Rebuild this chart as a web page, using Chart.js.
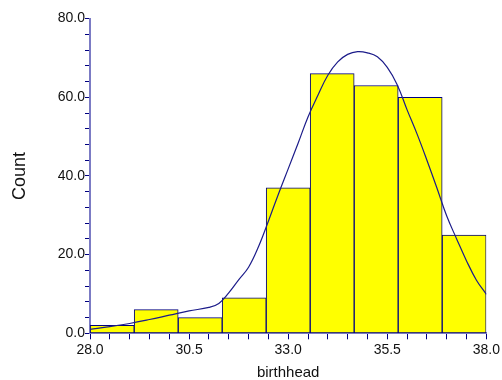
<!DOCTYPE html>
<html>
<head>
<meta charset="utf-8">
<script src="https://cdn.jsdelivr.net/npm/chart.js@4/dist/chart.umd.min.js"></script>
<style>
  html, body { margin: 0; padding: 0; background: #ffffff; }
  #wrap { width: 502px; height: 380px; }
</style>
</head>
<body>
<div id="wrap"><canvas id="c" width="502" height="380"></canvas></div>
<script>
// Histogram bins (centres of the 9 bins between 28.0 and 38.0) and counts
const binCenters = [28.56, 29.67, 30.78, 31.89, 33.0, 34.11, 35.22, 36.33, 37.44];
const counts = [2, 6, 4, 9, 37, 66, 63, 60, 25];

// Density curve (scaled to counts)
const curveX = [28.0, 28.5, 29.0, 29.5, 30.0, 30.5, 31.0, 31.25, 31.5, 31.75, 32.0, 32.25, 32.5, 32.75,
                33.0, 33.25, 33.5, 33.75, 34.0, 34.25, 34.5, 34.75, 35.0, 35.25, 35.5, 35.75, 36.0,
                36.25, 36.5, 36.75, 37.0, 37.25, 37.5, 37.75, 38.0];
const curveY = [1.0, 1.7, 2.5, 3.5, 4.6, 5.7, 6.6, 7.6, 10.3, 13.6, 16.8, 22.0, 28.5, 35.3,
                41.8, 48.3, 55.0, 60.5, 65.6, 69.0, 70.9, 71.6, 71.3, 70.3, 67.6, 63.2, 56.8,
                50.7, 44.0, 37.0, 29.8, 24.0, 18.4, 13.5, 9.9];

// Tick labels
const xMajorTicks = [28.0, 30.5, 33.0, 35.5, 38.0];
const xTickLabels = ['28.0', '30.5', '33.0', '35.5', '38.0'];
const yMajorTicks = [0, 20, 40, 60, 80];
const yTickLabels = ['0.0', '20.0', '40.0', '60.0', '80.0'];

const xTitle = 'birthhead';
const yTitle = 'Count';

function labelFor(value, majors, labels) {
  for (let i = 0; i < majors.length; i++) {
    if (Math.abs(value - majors[i]) < 1e-6) return labels[i];
  }
  return '';
}

const barData = binCenters.map((x, i) => ({ x: x, y: counts[i] }));
const curveData = curveX.map((x, i) => ({ x: x, y: curveY[i] }));

const FONT = "'Liberation Sans', Arial, sans-serif";

new Chart(document.getElementById('c'), {
  type: 'bar',
  data: {
    datasets: [
      {
        type: 'line',
        data: curveData,
        borderColor: '#1c1c8a',
        borderWidth: 1.2,
        pointRadius: 0,
        fill: false,
        tension: 0.4,
        order: 0
      },
      {
        type: 'bar',
        data: barData,
        backgroundColor: '#ffff00',
        borderColor: '#000080',
        borderWidth: 1,
        borderSkipped: false,
        barThickness: 'flex',
        barPercentage: 1.0,
        categoryPercentage: 1.0,
        order: 1
      }
    ]
  },
  options: {
    responsive: false,
    animation: false,
    devicePixelRatio: 1,
    layout: { padding: { top: 18.6, right: 14, bottom: 0, left: 0 } },
    plugins: { legend: { display: false }, tooltip: { enabled: false } },
    scales: {
      x: {
        type: 'linear',
        min: 28,
        max: 38,
        offset: false,
        afterFit: (s) => { s.height = 46.7; },
        border: { display: true, color: '#7b7bc4', width: 2 },
        grid: {
          offset: false,
          drawOnChartArea: false,
          drawTicks: true,
          tickLength: 6,
          tickColor: '#000080',
          tickWidth: 1
        },
        ticks: {
          stepSize: 0.5,
          autoSkip: false,
          maxRotation: 0,
          minRotation: 0,
          padding: 2,
          color: '#111111',
          font: { family: FONT, size: 14 },
          callback: (v) => labelFor(v, xMajorTicks, xTickLabels)
        },
        title: {
          display: true,
          text: xTitle,
          color: '#111111',
          font: { family: FONT, size: 15, lineHeight: 1 },
          padding: { top: 0, bottom: 0 }
        }
      },
      y: {
        type: 'linear',
        min: 0,
        max: 80,
        afterFit: (s) => { s.width = 90; },
        border: { display: true, color: '#7b7bc4', width: 2 },
        grid: {
          drawOnChartArea: false,
          drawTicks: true,
          tickLength: 5,
          tickColor: '#000080',
          tickWidth: 1
        },
        ticks: {
          stepSize: 4,
          autoSkip: false,
          padding: 0,
          color: '#111111',
          font: { family: FONT, size: 14 },
          callback: (v) => labelFor(v, yMajorTicks, yTickLabels)
        },
        title: {
          display: true,
          text: yTitle,
          color: '#111111',
          font: { family: FONT, size: 18, lineHeight: 1 },
          padding: { top: 11.4, bottom: 0 }
        }
      }
    }
  }
});
</script>
</body>
</html>
